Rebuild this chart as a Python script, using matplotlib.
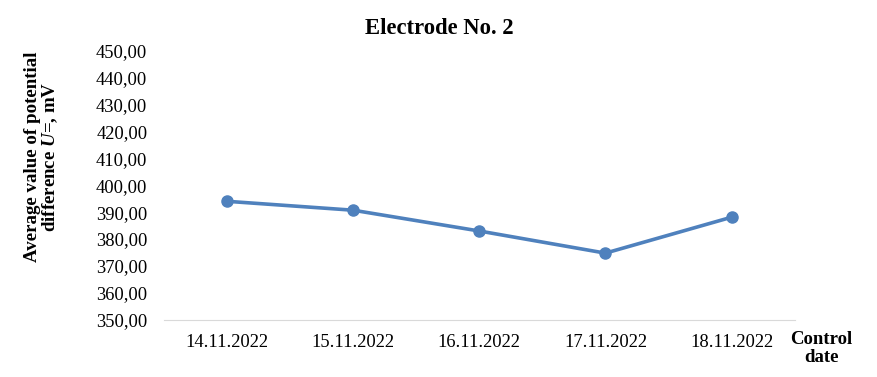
import matplotlib
matplotlib.use("Agg")
import matplotlib.pyplot as plt

# Electrode No. 2 potential difference by control date
dates = ["14.11.2022", "15.11.2022", "16.11.2022", "17.11.2022", "18.11.2022"]
values = [394.0, 390.7, 383.0, 374.8, 388.1]
yticks = list(range(350, 451, 10))
ytick_labels = [f"{v},00" for v in yticks]

plt.rcParams["font.family"] = ["Liberation Serif", "DejaVu Serif"]
plt.rcParams["mathtext.fontset"] = "custom"
plt.rcParams["mathtext.it"] = "Liberation Serif:italic:bold"
plt.rcParams["mathtext.rm"] = "Liberation Serif:bold"

fig = plt.figure(figsize=(8.77, 3.77), dpi=100)
ax = fig.add_axes([0.187, 0.151, 0.719, 0.716])

x = list(range(len(dates)))
ax.plot(x, values, color="#4F81BD", linewidth=2.6, marker="o", markersize=8)

ax.set_xlim(-0.5, len(dates) - 0.5)
ax.set_ylim(350, 450)
ax.set_xticks(x)
ax.set_xticklabels(dates, fontsize=13.3)
ax.set_yticks(yticks)
ax.set_yticklabels(ytick_labels, fontsize=13.3)
ax.tick_params(length=0, pad=10)
ax.tick_params(axis="y", pad=12)

for side in ["top", "right", "left"]:
    ax.spines[side].set_visible(False)
ax.spines["bottom"].set_color("#d9d9d9")

fig.text(0.501, 0.925, "Electrode No. 2", ha="center", va="center",
         fontsize=16.3, fontweight="bold")
fig.text(0.048, 0.584, "Average value of potential\ndifference $U$=, mV",
         ha="center", va="center", rotation=90, fontsize=13.6,
         fontweight="bold", linespacing=1.0)
fig.text(0.937, 0.075, "Control\ndate", ha="center", va="center",
         fontsize=13.5, fontweight="bold", linespacing=1.1)

fig.savefig("out.png", dpi=100)
